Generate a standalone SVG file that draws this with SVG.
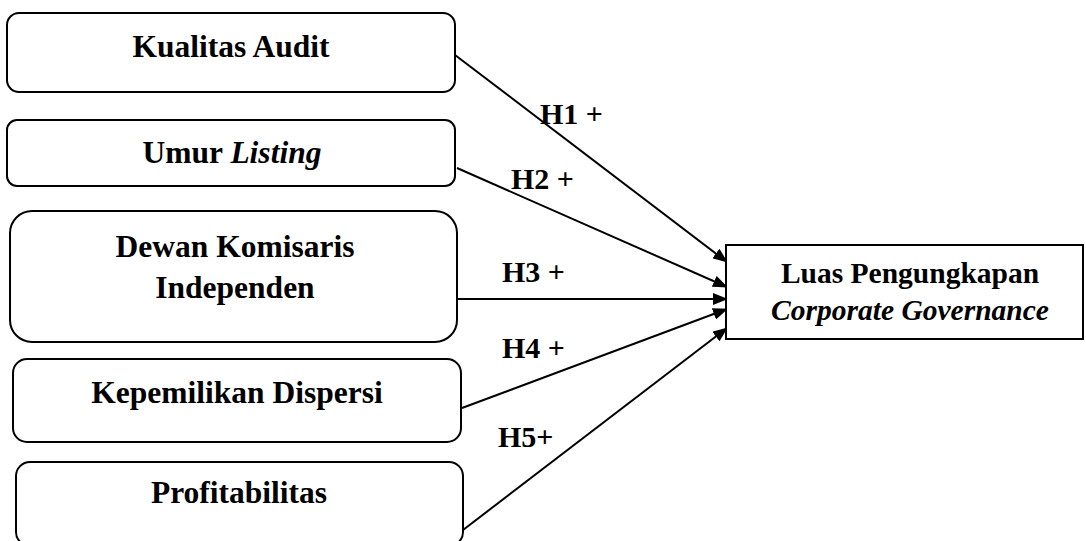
<svg xmlns="http://www.w3.org/2000/svg" width="1086" height="541" viewBox="0 0 1086 541">
<style>
.box{fill:#fff;stroke:#000;stroke-width:2}
.t{font-family:"Liberation Serif","Times New Roman",serif;font-weight:bold;font-size:31.5px;fill:#000;text-anchor:middle}
.r{font-size:29.5px}
.lbl{font-family:"Liberation Serif","Times New Roman",serif;font-weight:bold;font-size:30px;fill:#000}
.c{stroke:#000;stroke-width:2;fill:none;marker-end:url(#ah)}
</style>
<defs>
<marker id="ah" markerUnits="userSpaceOnUse" markerWidth="16" markerHeight="12" refX="14" refY="6" orient="auto">
<path d="M0,0 L15,6 L0,12 Z" fill="#000"/>
</marker>
</defs>
<rect width="1086" height="541" fill="#fff"/>
<g id="connectors">
<line class="c" x1="455" y1="55" x2="727" y2="262"/>
<line class="c" x1="457" y1="168" x2="727" y2="287"/>
<line class="c" x1="458" y1="299" x2="727" y2="299"/>
<line class="c" x1="462" y1="408" x2="727" y2="309"/>
<line class="c" x1="463" y1="530" x2="727" y2="328"/>
</g>
<g id="labels">
<text class="lbl" x="540" y="124">H1 +</text>
<text class="lbl" x="511" y="189">H2 +</text>
<text class="lbl" x="502" y="282">H3 +</text>
<text class="lbl" x="502" y="358">H4 +</text>
<text class="lbl" x="498" y="447">H5+</text>
</g>
<g id="kualitas-audit">
<rect class="box" x="7" y="13" width="448" height="79" rx="12"/>
<text class="t" x="231" y="57">Kualitas Audit</text>
</g>
<g id="umur-listing">
<rect class="box" x="7" y="120" width="448" height="66" rx="10"/>
<text class="t" x="232" y="163">Umur <tspan font-style="italic">Listing</tspan></text>
</g>
<g id="dewan-komisaris">
<rect class="box" x="10" y="211" width="447" height="131" rx="22"/>
<text class="t" x="235" y="257">Dewan Komisaris</text>
<text class="t" x="235" y="298">Independen</text>
</g>
<g id="kepemilikan-dispersi">
<rect class="box" x="13" y="359" width="448" height="83" rx="14"/>
<text class="t" x="237" y="403">Kepemilikan Dispersi</text>
</g>
<g id="profitabilitas">
<rect class="box" x="16" y="462" width="447" height="84" rx="14"/>
<text class="t" x="239" y="503">Profitabilitas</text>
</g>
<g id="luas-pengungkapan">
<rect class="box" x="726" y="245" width="357" height="94"/>
<text class="t r" x="910" y="283">Luas Pengungkapan</text>
<text class="t r" x="910" y="320" font-style="italic">Corporate Governance</text>
</g>
</svg>
